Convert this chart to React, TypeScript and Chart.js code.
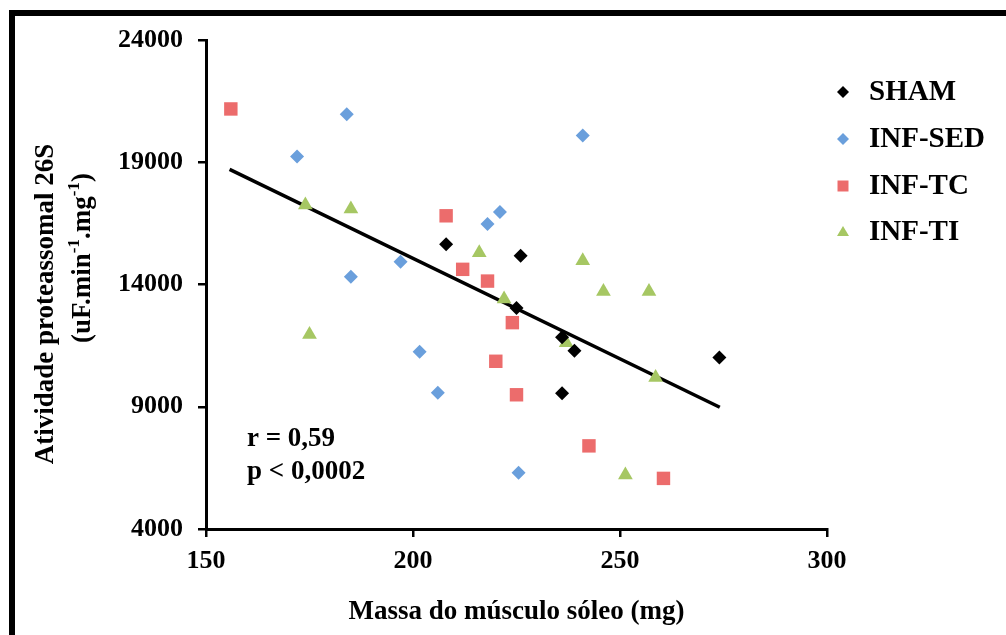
import React, { useEffect, useRef } from 'react';
import { Chart, registerables } from 'chart.js';

Chart.register(...registerables);

// ---- data ----
const seriesNames = ['SHAM', 'INF-SED', 'INF-TC', 'INF-TI'];
const shamX = [208, 226, 225, 236, 239, 236, 274];
const shamY = [15650, 15180, 13040, 11840, 11290, 9550, 11010];
const sedX = [184, 172, 241, 221, 218, 185, 197, 201.6, 206, 225.5];
const sedY = [20960, 19240, 20090, 16970, 16470, 14320, 14930, 11250, 9570, 6300];
const tcX = [156, 208, 212, 218, 224, 220, 225, 242.5, 260.5];
const tcY = [21180, 16810, 14620, 14140, 12440, 10860, 9490, 7400, 6070];
const tiX = [174, 185, 175, 216, 222, 237, 241, 246, 257, 258.6, 251.3];
const tiY = [17250, 17090, 11960, 15300, 13410, 11620, 14970, 13710, 13710, 10200, 6210];
const trendX = [155.7, 274.1];
const trendY = [18710, 8980];
const xTicks = [150, 200, 250, 300];
const yTicks = [4000, 9000, 14000, 19000, 24000];
const xTitle = 'Massa do músculo sóleo (mg)';
const yTitleLine1 = 'Atividade proteassomal 26S';
const yTitleLine2Parts = [
  { t: '(uF.min', sup: false },
  { t: '-1', sup: true },
  { t: '.mg', sup: false },
  { t: '-1', sup: true },
  { t: ')', sup: false },
];
const statsLines = ['r = 0,59', 'p < 0,0002'];

const colors = ['#000000', '#6a9fdc', '#ec6c6c', '#a6c763'];
const shapes = ['rectRot', 'rectRot', 'rect', 'triangle'];
const radii = [7, 7, 9.5, 8.5];

const FONT = '"Liberation Serif", "Times New Roman", serif';

const toPts = (xs: number[], ys: number[]) => xs.map((x, i) => ({ x, y: ys[i] }));

function drawMarker(ctx: CanvasRenderingContext2D, shape: string, x: number, y: number, s: number) {
  ctx.beginPath();
  if (shape === 'rectRot') {
    ctx.moveTo(x, y - s);
    ctx.lineTo(x + s, y);
    ctx.lineTo(x, y + s);
    ctx.lineTo(x - s, y);
  } else if (shape === 'rect') {
    ctx.rect(x - s, y - s, 2 * s, 2 * s);
  } else {
    const h = s * 1.7;
    ctx.moveTo(x, y - h * 0.6);
    ctx.lineTo(x + s, y + h * 0.4);
    ctx.lineTo(x - s, y + h * 0.4);
  }
  ctx.closePath();
  ctx.fill();
}

const decorPlugin = {
  id: 'decor',
  beforeDraw(chart: any) {
    const ctx = chart.ctx as CanvasRenderingContext2D;
    ctx.save();
    ctx.fillStyle = '#ffffff';
    ctx.fillRect(0, 0, chart.width, chart.height);
    ctx.strokeStyle = '#000000';
    ctx.lineWidth = 6;
    ctx.strokeRect(12, 13, 1200, 800);
    ctx.restore();
  },
  afterDraw(chart: any) {
    const ctx = chart.ctx as CanvasRenderingContext2D;
    ctx.save();
    ctx.fillStyle = '#000000';
    // y title line 1
    ctx.save();
    ctx.translate(46, 304);
    ctx.rotate(-Math.PI / 2);
    ctx.font = `bold 27px ${FONT}`;
    ctx.textAlign = 'center';
    ctx.textBaseline = 'middle';
    ctx.fillText(yTitleLine1, 0, 0);
    ctx.restore();
    // y title line 2 with superscripts
    ctx.save();
    ctx.translate(83, 258);
    ctx.rotate(-Math.PI / 2);
    ctx.textAlign = 'left';
    ctx.textBaseline = 'middle';
    const big = `bold 27px ${FONT}`;
    const small = `bold 17px ${FONT}`;
    let total = 0;
    for (const p of yTitleLine2Parts) {
      ctx.font = p.sup ? small : big;
      total += ctx.measureText(p.t).width;
    }
    let cx = -total / 2;
    for (const p of yTitleLine2Parts) {
      ctx.font = p.sup ? small : big;
      ctx.fillText(p.t, cx, p.sup ? -8 : 0);
      cx += ctx.measureText(p.t).width;
    }
    ctx.restore();
    // stats text
    ctx.font = `bold 27px ${FONT}`;
    ctx.textAlign = 'left';
    ctx.textBaseline = 'middle';
    statsLines.forEach((s, i) => ctx.fillText(s, 247, 439 + i * 33));
    // legend
    const rowY = [92, 139, 186, 232];
    seriesNames.forEach((name, i) => {
      ctx.fillStyle = colors[i];
      drawMarker(ctx, shapes[i], 843, rowY[i], i === 2 ? 5.5 : 6);
      ctx.fillStyle = '#000000';
      ctx.font = `bold 29px ${FONT}`;
      ctx.fillText(name, 869, rowY[i] + 1);
    });
    ctx.restore();
  },
};

export default function App() {
  const ref = useRef<HTMLCanvasElement>(null);
  useEffect(() => {
    if (!ref.current) return;
    const seriesX = [shamX, sedX, tcX, tiX];
    const seriesY = [shamY, sedY, tcY, tiY];
    const datasets: any[] = seriesNames.map((name, i) => ({
      type: 'scatter',
      label: name,
      data: toPts(seriesX[i], seriesY[i]),
      pointStyle: shapes[i],
      pointRadius: radii[i],
      pointBackgroundColor: colors[i],
      pointBorderColor: colors[i],
      pointBorderWidth: 0,
      showLine: false,
    }));
    datasets.push({
      type: 'line',
      label: 'trend',
      data: toPts(trendX, trendY),
      borderColor: '#000000',
      borderWidth: 3.5,
      pointRadius: 0,
      fill: false,
    });
    const chart = new Chart(ref.current, {
      type: 'scatter',
      data: { datasets },
      plugins: [decorPlugin],
      options: {
        responsive: false,
        animation: false,
        devicePixelRatio: 1,
        layout: { padding: { top: 40, right: 179, left: 0, bottom: 0 } },
        plugins: { legend: { display: false }, tooltip: { enabled: false } },
        scales: {
          x: {
            type: 'linear',
            min: 150,
            max: 300,
            afterBuildTicks: (s: any) => { s.ticks = xTicks.map((v) => ({ value: v })); },
            afterFit: (s: any) => { s.height = 106; },
            ticks: {
              color: '#000',
              font: { family: FONT, size: 26, weight: 'bold' },
              padding: 9,
              maxRotation: 0,
              callback: (v: any) => String(v),
            },
            grid: { drawOnChartArea: false, drawTicks: true, tickLength: 8, color: '#000', lineWidth: 2.5 },
            border: { display: true, color: '#000', width: 3 },
            title: {
              display: true,
              text: xTitle,
              color: '#000',
              font: { family: FONT, size: 27, weight: 'bold' },
              padding: { top: 0, bottom: 7 },
            },
          },
          y: {
            type: 'linear',
            min: 4000,
            max: 24000,
            afterBuildTicks: (s: any) => { s.ticks = yTicks.map((v) => ({ value: v })); },
            afterFit: (s: any) => { s.width = 206; },
            ticks: {
              color: '#000',
              font: { family: FONT, size: 26, weight: 'bold' },
              padding: 15,
              callback: (v: any) => String(v),
            },
            grid: { drawOnChartArea: false, drawTicks: true, tickLength: 8, color: '#000', lineWidth: 2.5 },
            border: { display: true, color: '#000', width: 3 },
          },
        },
      } as any,
    });
    return () => chart.destroy();
  }, []);
  return (
    <div style={{ position: 'fixed', left: 0, top: 0, width: 1006, height: 635, background: '#fff' }}>
      <canvas ref={ref} width={1006} height={635} style={{ display: 'block' }} />
    </div>
  );
}
